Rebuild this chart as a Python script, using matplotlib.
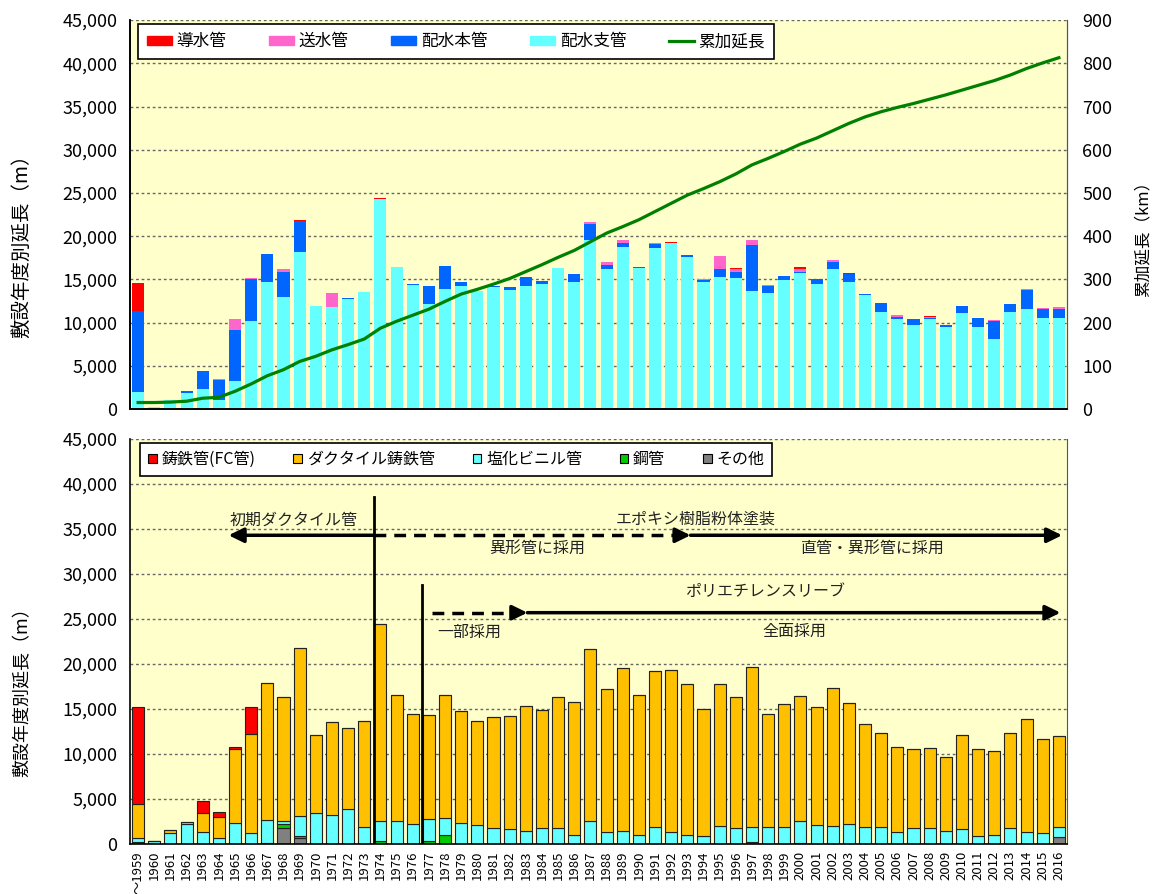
import numpy as np
import matplotlib.pyplot as plt
from matplotlib.patches import Patch
from matplotlib.lines import Line2D
from matplotlib.ticker import FuncFormatter

plt.rcParams['font.family'] = ['Noto Sans CJK JP', 'DejaVu Sans']

# 年度
years = list(range(1959, 2017))
year_labels = ['～1959'] + [str(y) for y in years[1:]]

# 上段：用途別の敷設延長 (m)
dosui = [3170, 0, 0, 0, 0, 0, 0, 0, 0, 0,
         80, 0, 0, 0, 0, 150, 0, 0, 0, 0,
         0, 0, 0, 0, 0, 0, 0, 0, 0, 0,
         0, 0, 0, 160, 0, 0, 0, 150, 0, 0,
         0, 230, 0, 0, 160, 0, 0, 0, 0, 80,
         0, 0, 0, 0, 0, 0, 0, 0]
sosui = [0, 0, 0, 0, 0, 110, 1270, 150, 0, 350,
         0, 0, 1580, 0, 0, 0, 0, 0, 0, 0,
         0, 0, 0, 0, 0, 0, 0, 0, 230, 350,
         280, 0, 110, 0, 0, 120, 1430, 320, 610, 120,
         0, 270, 0, 230, 0, 0, 0, 160, 0, 100,
         0, 0, 0, 80, 0, 150, 160, 230]
honkan = [9370, 0, 0, 140, 2090, 2280, 5900, 4860, 3240, 2900,
          3550, 0, 0, 120, 0, 0, 0, 120, 2090, 2700,
          460, 0, 120, 280, 1040, 380, 80, 920, 1850, 500,
          460, 120, 500, 0, 160, 190, 920, 770, 5330, 810,
          460, 190, 500, 850, 880, 110, 1010, 290, 660, 150,
          190, 850, 1040, 2080, 930, 2240, 1040, 1120]
shikan = [2000, 200, 1080, 1890, 2310, 1080, 3280, 10140, 14660, 13000,
          18200, 11920, 11840, 12730, 13540, 24260, 16470, 14380, 12180, 13850,
          14270, 13690, 14080, 13800, 14270, 14430, 16280, 14700, 19550, 16160,
          18780, 16350, 18590, 19170, 17620, 14730, 15310, 15120, 13650, 13460,
          14930, 15700, 14500, 16160, 14700, 13190, 11220, 10380, 9720, 10420,
          9530, 11070, 9450, 8140, 11220, 11530, 10490, 10490]
# 累加延長 (km)
ruika = [15, 15, 16, 18, 25, 27, 41, 58, 77, 91,
         110, 122, 137, 149, 162, 187, 203, 217, 231, 249,
         266, 277, 289, 302, 318, 334, 351, 367, 387, 407,
         422, 438, 457, 476, 495, 510, 526, 544, 565, 580,
         596, 613, 627, 644, 661, 676, 688, 698, 707, 717,
         727, 738, 749, 760, 773, 788, 801, 813]

# 下段：管種別の敷設延長 (m)
chutetsu = [10750, 0, 0, 0, 1400, 490, 260, 2970, 0, 0,
            0, 0, 0, 0, 0, 0, 0, 0, 0, 0,
            0, 0, 0, 0, 0, 0, 0, 0, 0, 0,
            0, 0, 0, 0, 0, 0, 0, 0, 0, 0,
            0, 0, 0, 0, 0, 0, 0, 0, 0, 0,
            0, 0, 0, 0, 0, 0, 0, 0]
ductile = [3770, 70, 290, 260, 2080, 2360, 8220, 10960, 15260, 13780,
           18630, 8590, 10290, 9080, 11770, 21920, 14030, 12180, 11550, 13700,
           12480, 11630, 12400, 12590, 13960, 13150, 14630, 14820, 19150, 15880,
           18180, 15590, 17290, 18030, 16700, 14150, 15700, 14630, 17770, 12550,
           13590, 13890, 13120, 15370, 13480, 11400, 10440, 9480, 8780, 8890,
           8290, 10440, 9660, 9290, 10630, 12620, 10450, 10150]
enbi = [470, 300, 1260, 2220, 1330, 670, 2300, 1260, 2520, 370,
        2220, 3480, 3220, 3850, 1930, 2220, 2520, 2220, 2440, 1890,
        2300, 2070, 1740, 1630, 1410, 1740, 1740, 960, 2520, 1300,
        1410, 960, 1930, 1300, 1040, 850, 2040, 1740, 1730, 1850,
        1930, 2440, 2070, 2000, 2220, 1930, 1930, 1300, 1740, 1810,
        1410, 1630, 930, 1040, 1740, 1300, 1220, 1110]
kokan = [0, 0, 0, 0, 0, 0, 0, 0, 0, 480,
         260, 0, 0, 0, 0, 300, 0, 0, 300, 960,
         0, 0, 0, 0, 0, 0, 0, 0, 0, 0,
         0, 0, 0, 0, 0, 0, 0, 0, 200, 0,
         0, 150, 0, 0, 0, 0, 0, 0, 0, 0,
         0, 0, 0, 0, 0, 0, 0, 0]
sonota = [200, 0, 0, 0, 0, 0, 0, 0, 150, 1740,
          630, 0, 0, 0, 0, 0, 0, 0, 0, 0,
          0, 0, 0, 0, 0, 0, 0, 0, 0, 0,
          0, 0, 0, 0, 0, 0, 0, 0, 0, 0,
          0, 0, 0, 0, 0, 0, 0, 0, 0, 0,
          0, 0, 0, 0, 0, 0, 0, 740]

x = np.arange(len(years))
fmt = FuncFormatter(lambda v, p: f'{int(v):,}')
bg = '#FFFFCC'
grid_style = dict(linestyle=(0, (2, 2)), color='#666666', linewidth=1)

fig = plt.figure(figsize=(11.61, 8.94), dpi=100)
ax1 = fig.add_axes([0.112, 0.5425, 0.807, 0.435])
ax2 = fig.add_axes([0.112, 0.0559, 0.807, 0.4531])

# ---- 上段 ----
ax1.set_facecolor(bg)
bottom = np.zeros(len(years))
top_series = [(shikan, '#66FFFF'), (honkan, '#0066FF'), (sosui, '#FF66CC'), (dosui, '#FF0000')]
for vals, col in top_series:
    ax1.bar(x, vals, 0.75, bottom=bottom, color=col, zorder=2)
    bottom += np.array(vals)
ax1.set_xlim(-0.5, len(years) - 0.5)
ax1.set_ylim(0, 45000)
ax1.set_yticks(np.arange(0, 45001, 5000))
ax1.yaxis.set_major_formatter(fmt)
ax1.set_xticks([])
ax1.yaxis.grid(True, **grid_style)
ax1.set_axisbelow(True)
ax1.tick_params(axis='y', length=0, pad=9, labelsize=13)

axr = ax1.twinx()
axr.plot(x, ruika, color='#008000', lw=2.3, zorder=3)
axr.set_ylim(0, 900)
axr.set_yticks(np.arange(0, 901, 100))
axr.tick_params(axis='y', length=0, pad=11, labelsize=13)

for a in (ax1, axr):
    a.spines['top'].set_visible(False)
    a.spines['right'].set_color('#555555')
    a.spines['left'].set_linewidth(1.2)
    a.spines['bottom'].set_linewidth(1.2)

h1 = [Patch(color=c) for _, c in top_series[::-1]] + [Line2D([0], [0], color='#008000', lw=2.3)]
l1 = ['導水管', '送水管', '配水本管', '配水支管', '累加延長']
leg1 = axr.legend(h1, l1, ncol=5, loc='upper left', bbox_to_anchor=(0.008, 0.99),
                  fontsize=12, fancybox=False, edgecolor='black', framealpha=1,
                  handlelength=1.5, handleheight=0.5, handletextpad=0.25,
                  columnspacing=2.6, borderpad=0.55, borderaxespad=0)
leg1.get_frame().set_linewidth(1.2)

fig.text(22 / 1161, 1 - 241 / 894, '敷設年度別延長（m）', rotation=90,
         ha='center', va='center', fontsize=14)
fig.text(1143 / 1161, 1 - 235 / 894, '累加延長（km）', rotation=90,
         ha='center', va='center', fontsize=12)

# ---- 下段 ----
ax2.set_facecolor(bg)
bottom = np.zeros(len(years))
bot_series = [(sonota, '#808080'), (kokan, '#00CC00'), (enbi, '#66FFFF'),
              (ductile, '#FFC000'), (chutetsu, '#FF0000')]
for vals, col in bot_series:
    ax2.bar(x, vals, 0.75, bottom=bottom, color=col, edgecolor='#222222', linewidth=0.8, zorder=2)
    bottom += np.array(vals)
ax2.set_xlim(-0.5, len(years) - 0.5)
ax2.set_ylim(0, 45000)
ax2.set_yticks(np.arange(0, 45001, 5000))
ax2.yaxis.set_major_formatter(fmt)
ax2.set_xticks(x, year_labels, rotation=90, fontsize=9.5)
ax2.yaxis.grid(True, **grid_style)
ax2.set_axisbelow(True)
ax2.tick_params(axis='y', length=0, pad=9, labelsize=13)
ax2.tick_params(axis='x', length=0, pad=5)
ax2.spines['top'].set_visible(False)
ax2.spines['right'].set_color('#555555')
ax2.spines['left'].set_linewidth(1.2)
ax2.spines['bottom'].set_linewidth(1.2)

h2 = [Patch(facecolor=c, edgecolor='black', linewidth=0.8) for _, c in bot_series[::-1]]
l2 = ['鋳鉄管(FC管)', 'ダクタイル鋳鉄管', '塩化ビニル管', '鋼管', 'その他']
leg2 = ax2.legend(h2, l2, ncol=5, loc='upper left', bbox_to_anchor=(0.011, 0.99),
                  fontsize=11.5, fancybox=False, edgecolor='black', framealpha=1,
                  handlelength=0.55, handleheight=0.55, handletextpad=0.3,
                  columnspacing=2.35, borderpad=0.5, borderaxespad=0)
leg2.get_frame().set_linewidth(1.2)

fig.text(22 / 1161, 1 - 688 / 894, '敷設年度別延長（m）', rotation=90,
         ha='center', va='center', fontsize=13)

# 注記（縦線・矢印）
vline1_x, vline1_top = 14.6, 38500
vline2_x, vline2_top = 17.55, 28800
epoxy_y, poly_y = 34300, 25700
head = '-|>,head_length=0.45,head_width=0.22'
dash = (0, (3.4, 2.3))

ax2.plot([vline1_x, vline1_x], [0, vline1_top], color='black', lw=2, zorder=4)
ax2.plot([vline2_x, vline2_x], [0, vline2_top], color='black', lw=2, zorder=4)


def arrow(x0, x1, y):
    ax2.annotate('', xy=(x1, y), xytext=(x0, y), zorder=5,
                 arrowprops=dict(arrowstyle=head, mutation_scale=20, lw=2.5,
                                 color='black', shrinkA=0, shrinkB=0))


# 初期ダクタイル管
arrow(vline1_x, 5.6, epoxy_y)
# エポキシ樹脂粉体塗装
ax2.plot([vline1_x, 33.6], [epoxy_y, epoxy_y], color='black', lw=2.5, linestyle=dash, zorder=5)
arrow(33.6, 34.2, epoxy_y)
arrow(34.2, 57.2, epoxy_y)
# ポリエチレンスリーブ
ax2.plot([18.2, 23.5], [poly_y, poly_y], color='black', lw=2.5, linestyle=dash, zorder=5)
arrow(23.5, 24.1, poly_y)
arrow(24.1, 57.1, poly_y)

notes = [(9.6, 36000, '初期ダクタイル管'), (34.5, 36100, 'エポキシ樹脂粉体塗装'),
         (24.7, 32800, '異形管に採用'), (45.4, 32800, '直管・異形管に採用'),
         (38.8, 28000, 'ポリエチレンスリーブ'), (20.5, 23550, '一部採用'),
         (40.6, 23670, '全面採用')]
for tx, ty, s in notes:
    ax2.text(tx, ty, s, ha='center', va='center', fontsize=11.5, color='#222222', zorder=5)

fig.savefig('out.png', dpi=100)
